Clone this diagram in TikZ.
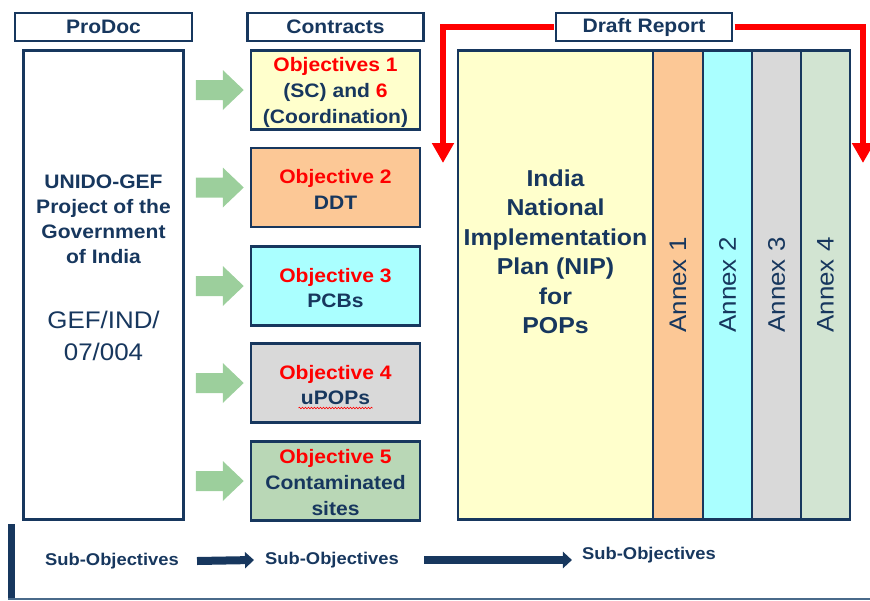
\documentclass[tikz,border=0pt]{standalone}
\usepackage{fontspec}
\setmainfont{Liberation Sans}[FakeStretch=1.08]
\usetikzlibrary{arrows.meta,calc,decorations.pathmorphing}

\definecolor{navy}{HTML}{17375E}
\definecolor{paleyellow}{HTML}{FFFFCC}
\definecolor{peach}{HTML}{FCC896}
\definecolor{paleaqua}{HTML}{AAFFFF}
\definecolor{lightgrey}{HTML}{D9D9D9}
\definecolor{sage}{HTML}{B9D7B6}
\definecolor{palesage}{HTML}{D2E4D2}
\definecolor{arrowgreen}{HTML}{9CCF9C}
\definecolor{rulegrey}{HTML}{4A6A8A}

\begin{document}
\begin{tikzpicture}[x=1pt,y=-1pt,
  boxline/.style={draw=navy, line width=2.5pt},
  hdr/.style={boxline, fill=white, text=navy, inner sep=0pt,
    minimum width=176pt, minimum height=28pt,
    font=\fontsize{19.5}{22}\selectfont\bfseries},
  objbox/.style={boxline, inner sep=0pt,
    minimum width=169pt, minimum height=79pt},
  objtext/.style={text=navy, align=center, inner sep=0pt,
    font=\fontsize{19.5}{25.5}\selectfont\bfseries},
  col/.style={boxline, inner sep=0pt, minimum height=469pt},
  annexlbl/.style={rotate=90, text=navy, inner sep=0pt,
    font=\fontsize{24}{24}\selectfont},
  subtxt/.style={text=navy, inner sep=0pt,
    font=\fontsize{17}{20}\selectfont\bfseries},
  redarrow/.style={draw=red, line width=6pt, shorten <=1.25pt,
    -{Triangle[width=21pt,length=20pt]}},
  subarrow/.style={draw=navy, line width=8pt,
    -{Triangle[width=16pt,length=9pt]}},
  greenarrow/.style={fill=arrowgreen}
]
\useasboundingbox (0,0) rectangle (870,600);

% --- ProDoc column ---------------------------------------------------
\node[hdr, minimum width=177pt] (prodoc) at (103.5,27) {ProDoc};
\node[boxline, fill=white, minimum width=160pt, minimum height=469pt]
  (project) at (103.5,285) {};
\node[text=navy, align=center, inner sep=0pt,
  font=\fontsize{19.5}{25}\selectfont\bfseries]
  (unido) at (103.5,219) {UNIDO-GEF\\Project of the\\Government\\of India};
\node[text=navy, align=center, inner sep=0pt,
  font=\fontsize{24}{32}\selectfont]
  (gefid) at (103.5,336) {GEF/IND/\\07/004};

% --- Contracts column -------------------------------------------------
\node[hdr] (contracts) at (335.5,27) {Contracts};
\node[objbox, fill=paleyellow] (obj1) at (335.5,90) {};
\node[objbox, fill=peach]      (obj2) at (335.5,187.5) {};
\node[objbox, fill=paleaqua]   (obj3) at (335.5,286) {};
\node[objbox, fill=lightgrey]  (obj4) at (335.5,383) {};
\node[objbox, fill=sage]       (obj5) at (335.5,481) {};

\node[objtext, font=\fontsize{19.5}{26}\selectfont\bfseries]
  (t1) at ($(obj1)+(0,2.5)$)
  {\textcolor{red}{Objectives 1}\\(SC) and \textcolor{red}{6}\\(Coordination)};
\node[objtext] (t2) at ($(obj2)+(0,2)$) {\textcolor{red}{Objective 2}\\DDT};
\node[objtext] (t3) at ($(obj3)+(0,2)$) {\textcolor{red}{Objective 3}\\PCBs};
\node[objtext] (t4) at ($(obj4)+(0,2)$) {\textcolor{red}{Objective 4}\\uPOPs};
\node[objtext, font=\fontsize{19.5}{26}\selectfont\bfseries]
  (t5) at ($(obj5)+(0,2)$)
  {\textcolor{red}{Objective 5}\\Contaminated\\sites};

% spell-check squiggle under uPOPs
\draw[red, line width=0.6pt, decorate,
  decoration={snake, amplitude=0.8pt, segment length=3pt}]
  ($(obj4.center)+(-37,25)$) -- ($(obj4.center)+(37,25)$);

% block arrows from the ProDoc box to each contract
\foreach \c in {obj1,obj2,obj3,obj4,obj5}{
  \path (\c.west) coordinate (tip);
  \fill[greenarrow]
    ($(tip)+(-54,-10)$) -- ($(tip)+(-27,-10)$) -- ($(tip)+(-27,-20)$) --
    ($(tip)+(-6,0)$) -- ($(tip)+(-27,20)$) -- ($(tip)+(-27,10)$) --
    ($(tip)+(-54,10)$) -- cycle;
}

% --- Draft report -----------------------------------------------------
\coordinate (lefttip) at (443,163);
\coordinate (righttip) at (863,163);
\node[hdr] (draft) at (644,27) {Draft Report};
\draw[redarrow] (draft.west) -| (lefttip);
\draw[redarrow] (draft.east) -| (righttip);

\node[col, fill=paleyellow, minimum width=195pt] (nip)   at (555.5,285) {};
\node[col, fill=peach,      minimum width=50pt]  (an1)   at (678,285) {};
\node[col, fill=paleaqua,   minimum width=49pt]  (an2)   at (727.5,285) {};
\node[col, fill=lightgrey,  minimum width=49pt]  (an3)   at (776.5,285) {};
\node[col, fill=palesage,   minimum width=49pt]  (an4)   at (825.5,285) {};

\node[text=navy, align=center, inner sep=0pt,
  font=\fontsize{23}{29.5}\selectfont\bfseries]
  (niptext) at (555.5,252)
  {India\\National\\Implementation\\Plan (NIP)\\for\\POPs};
\node[annexlbl] (a1) at (an1) {Annex 1};
\node[annexlbl] (a2) at (an2) {Annex 2};
\node[annexlbl] (a3) at (an3) {Annex 3};
\node[annexlbl] (a4) at (an4) {Annex 4};

% --- Sub-objectives strip ----------------------------------------------
\draw[navy, line width=7pt] (11.5,524) -- (11.5,600);
\draw[rulegrey, line width=1.5pt] (8,599) -- (870,599);

\node[subtxt] (s1) at (112,561) {Sub-Objectives};
\node[subtxt] (s2) at (332,560) {Sub-Objectives};
\node[subtxt] (s3) at (649,555) {Sub-Objectives};
\coordinate (a2end) at ($(s3.west |- s2.east)+(-10,0)$);
\draw[subarrow] ([xshift=18pt]s1.east) -- ([xshift=-11pt]s2.west);
\draw[subarrow] ([xshift=25pt]s2.east) -- (a2end);
\end{tikzpicture}
\end{document}
